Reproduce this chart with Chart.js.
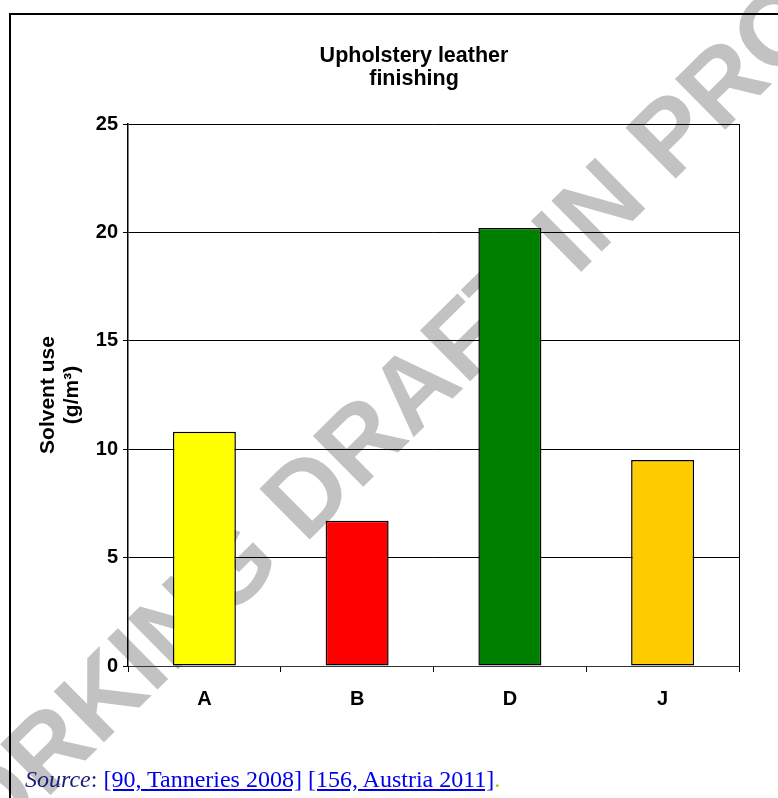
<!DOCTYPE html>
<html>
<head>
<meta charset="utf-8">
<title>Upholstery leather finishing – solvent use</title>
<script src="https://cdn.jsdelivr.net/npm/chart.js@4.4.1/dist/chart.umd.min.js"></script>
<style>
  html, body { margin: 0; padding: 0; background: #fff; }
  #page { position: relative; width: 778px; height: 798px; overflow: hidden; background: #fff; }
  #watermark {
    position: absolute; left: 479px; top: 322px;
    transform: translate(-50%, -50%) rotate(-44.6deg);
    font: bold 104px "Liberation Sans", Arial, sans-serif;
    color: #c2c2c2; white-space: nowrap; line-height: 1; z-index: 0;
  }
  #chart { position: absolute; left: 0; top: 0; z-index: 1; }
  #frame {
    position: absolute; left: 9px; top: 13px; width: 820px; height: 820px;
    border-left: 2px solid #000; border-top: 2px solid #000; z-index: 2;
  }
  #source {
    position: absolute; left: 25px; top: 767px; z-index: 3;
    font: 24px "Liberation Serif", "Times New Roman", serif; line-height: 24px;
    white-space: nowrap; color: #1b1b7a;
  }
  #source .label { font-style: italic; }
  #source .ref { color: #0000ee; text-decoration: underline; }
  #source .dot { color: #99cc00; }
</style>
</head>
<body>
<div id="page">
  <div id="watermark">WORKING DRAFT IN PROGRESS</div>
  <canvas id="chart" width="778" height="798"></canvas>
  <div id="frame"></div>
  <div id="source"><span class="label">Source</span>: <span class="ref">[90, Tanneries 2008]</span> <span class="ref">[156, Austria 2011]</span><span class="dot">.</span></div>
</div>
<script>
// Solvent use in upholstery leather finishing, per plant
const categories = ['A', 'B', 'D', 'J'];
const solventUse = [10.8, 6.7, 20.2, 9.5];
const barColours = ['#FFFF00', '#FF0000', '#008000', '#FFCC00'];
const yTicks = [0, 5, 10, 15, 20, 25];
const chartTitle = ['Upholstery leather', 'finishing'];
const yAxisTitle = ['Solvent use', '(g/m\u00B3)'];

const sansBold = '"Liberation Sans", Arial, sans-serif';
const labelFont = { family: sansBold, size: 20, weight: 'bold' };

// Two-line heading above the plot and the right-hand edge of the plot frame
const chartDecor = {
  id: 'chartDecor',
  beforeDatasetsDraw(chart) {
    const { ctx, chartArea } = chart;
    ctx.save();
    ctx.strokeStyle = '#000';
    ctx.lineWidth = 1;
    const x = Math.round(chartArea.right) + 0.5;
    ctx.beginPath();
    ctx.moveTo(x, chartArea.top);
    ctx.lineTo(x, chartArea.bottom);
    ctx.stroke();
    ctx.restore();
  },
  afterDraw(chart) {
    const { ctx } = chart;
    ctx.save();
    ctx.font = 'bold 21.5px ' + sansBold;
    ctx.fillStyle = '#000';
    ctx.textAlign = 'center';
    ctx.textBaseline = 'alphabetic';
    chartTitle.forEach((line, i) => ctx.fillText(line, 414, 62 + i * 22.7));
    ctx.restore();
  }
};

new Chart(document.getElementById('chart'), {
  type: 'bar',
  data: {
    labels: categories,
    datasets: [{
      data: solventUse,
      backgroundColor: barColours,
      borderColor: '#000',
      borderWidth: 1.5,
      borderSkipped: false,
      barPercentage: 0.4125,
      categoryPercentage: 1
    }]
  },
  options: {
    responsive: false,
    devicePixelRatio: 1,
    animation: false,
    layout: { padding: { left: 12, right: 39, top: 124, bottom: 0 } },
    plugins: { legend: { display: false }, tooltip: { enabled: false }, title: { display: false } },
    scales: {
      x: {
        grid: { display: true, offset: true, drawOnChartArea: false, tickLength: 6, color: '#000', lineWidth: 1 },
        border: { display: true, color: '#333', width: 1 },
        ticks: { color: '#000', font: labelFont, padding: 15, maxRotation: 0 },
        afterFit(scale) { scale.height = 132; }
      },
      y: {
        min: 0, max: 25,
        afterBuildTicks(scale) { scale.ticks = yTicks.map(v => ({ value: v })); },
        grid: { color: '#000', lineWidth: 1, tickLength: 5 },
        border: { display: true, color: '#000', width: 1.5 },
        ticks: { color: '#000', font: labelFont, padding: 5 },
        title: {
          display: true,
          text: yAxisTitle,
          color: '#000',
          font: { family: sansBold, size: 21, weight: 'bold', lineHeight: 1.15 },
          padding: { top: 24, bottom: 0 }
        },
        afterFit(scale) { scale.width = 116; }
      }
    }
  },
  plugins: [chartDecor]
});
</script>
</body>
</html>
